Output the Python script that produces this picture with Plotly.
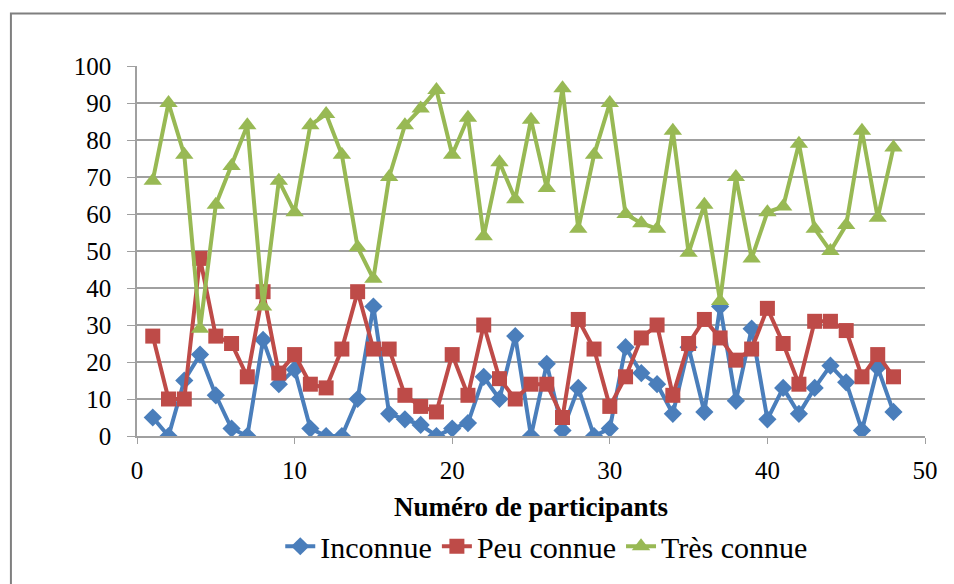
import plotly.graph_objects as go

# Participant numbers and percentage per category
participants = list(range(1, 49))

inconnue = [5, 0, 15, 22, 11, 2, 0, 26, 14, 18, 2, 0, 0, 10, 35, 6, 4.5, 3, 0, 2,
            3.5, 16, 10, 27, 0, 19.5, 1.5, 13, 0, 2, 24, 17, 14, 6, 24, 6.5,
            35, 9.5, 29, 4.5, 13, 6, 13, 19, 14.5, 1.5, 18.5, 6.5]

peu_connue = [27, 10, 10, 48, 27, 25, 16, 39, 17, 22, 14, 13, 23.5, 39, 23.5, 23.5,
              11, 8, 6.5, 22, 11, 30, 15.5, 10, 14, 14, 5, 31.5, 23.5, 8, 16, 26.5,
              30, 11, 25, 31.5, 26.5, 20.5, 23.5, 34.5, 25, 14, 31, 31, 28.5, 16,
              22, 16]

tres_connue = [69, 90, 76, 29, 62.5, 73, 84, 35, 69, 60.5, 84, 87, 76, 51, 42.5, 70,
               84, 88.5, 93.5, 76, 86, 54, 74, 64, 85.5, 67, 94, 56, 76, 90, 60,
               57.5, 56, 82.5, 49.5, 62.5, 36.5, 70, 48, 60.5, 62, 79, 56, 50, 57,
               82.5, 59, 78]

x_ticks = [0, 10, 20, 30, 40, 50]
y_ticks = [0, 10, 20, 30, 40, 50, 60, 70, 80, 90, 100]

FONT = "Liberation Serif"
GRID = "#a0a0a0"

series = [
    ("Inconnue", inconnue, "#4a7ebb", "diamond", 14),
    ("Peu connue", peu_connue, "#be4b48", "square", 15),
    ("Très connue", tres_connue, "#98b954", "triangle-up", 16),
]

fig = go.Figure()
for name, vals, color, symbol, size in series:
    fig.add_trace(go.Scatter(
        x=participants, y=vals, name=name, mode="lines+markers",
        line=dict(color=color, width=4),
        marker=dict(symbol=symbol, size=size, color=color),
    ))

# page body adds an 8px offset, so the figure is 8px smaller than the window
fig.update_layout(
    width=946, height=576,
    paper_bgcolor="white", plot_bgcolor="white",
    font=dict(family=FONT, size=25, color="black"),
    margin=dict(l=129, r=29, t=58, b=145),
    showlegend=True,
    legend=dict(
        orientation="h", x=0.52, xanchor="center", y=-0.298, yanchor="middle",
        font=dict(size=30), bgcolor="rgba(0,0,0,0)",
        tracegroupgap=0,
    ),
    xaxis=dict(
        range=[0, 50], tickvals=x_ticks, showgrid=False, zeroline=False,
        showline=True, linecolor=GRID, linewidth=1.5,
        ticks="outside", ticklen=6, tickcolor=GRID, ticklabelstandoff=5,
        title=dict(text="<b>Numéro de participants</b>", font=dict(size=27), standoff=14),
    ),
    yaxis=dict(
        range=[0, 100], tickvals=y_ticks, showgrid=True, gridcolor=GRID, gridwidth=1.5,
        zeroline=False, showline=True, linecolor=GRID, linewidth=1.5,
        ticks="outside", ticklen=8, tickcolor=GRID, ticklabelstandoff=11,
    ),
    shapes=[dict(
        type="rect", xref="paper", yref="paper",
        x0=-0.16, x1=1.1, y0=-0.5, y1=1.142,
        line=dict(color="#7f7f7f", width=2), layer="below",
    )],
)

fig.write_html("out.html")
